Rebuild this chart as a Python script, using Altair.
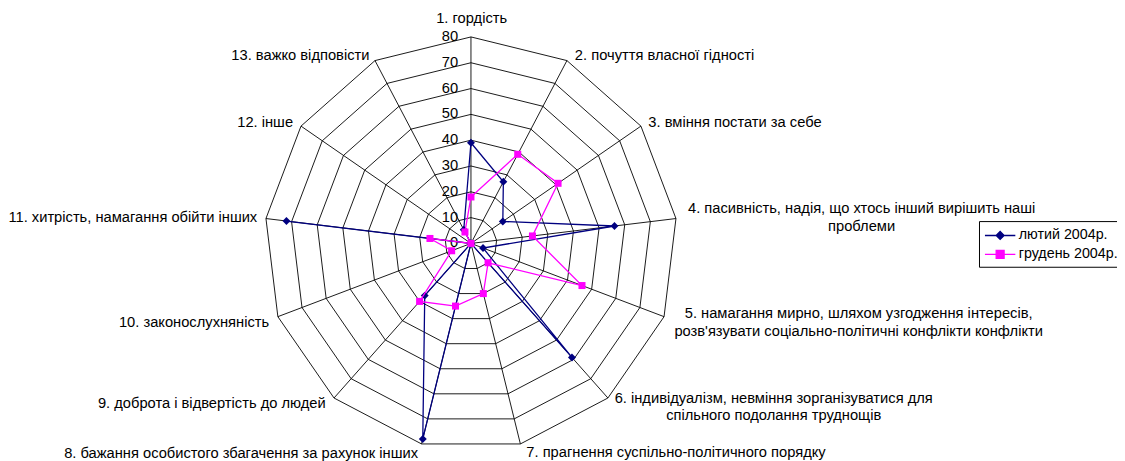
import altair as alt
import pandas as pd

# ---------------- data ----------------
categories = [
    "1. гордість",
    "2. почуття власної гідності",
    "3. вміння постати за себе",
    "4. пасивність, надія, що хтось інший вирішить наші\nпроблеми",
    "5. намагання мирно, шляхом узгодження інтересів,\nрозв'язувати соціально-політичні конфлікти конфлікти",
    "6. індивідуалізм, невміння зорганізуватися для\nспільного подолання труднощів",
    "7. прагнення суспільно-політичного порядку",
    "8. бажання особистого збагачення за рахунок інших",
    "9. доброта і відвертість до людей",
    "10. законослухняність",
    "11. хитрість, намагання обійти інших",
    "12. інше",
    "13. важко відповісти",
]
ticks = [0, 10, 20, 30, 40, 50, 60, 70, 80]
series_names = ["лютий 2004р.", "грудень 2004р."]
feb_values = [39, 27, 15, 56, 5, 59, 0, 78, 27, 0, 72, 0, 6]
dec_values = [18, 39, 41, 24, 46, 10, 20, 25, 30, 8, 16, 0, 5]

# ---------------- layout / style ----------------
NAVY = "#000080"
MAGENTA = "#FF00FF"
FONT = "Liberation Sans"
FS = 14.8
W, H = 1117, 453
CX, CY = 466.3, 235.5      # centre of the radar, px inside plot area
RPX = 208.0                # radius of outer ring, px
N = len(categories)
RMAX = ticks[-1]
K = RPX / RMAX
xdom = [-CX / K, (W - CX) / K]
ydom = [-(H - CY) / K, CY / K]

X = alt.X("x:Q", scale=alt.Scale(domain=xdom, nice=False, zero=False), axis=None)
Y = alt.Y("y:Q", scale=alt.Scale(domain=ydom, nice=False, zero=False), axis=None)
calc = dict(
    x=f"datum.r*sin(datum.i*2*PI/{N})",
    y=f"datum.r*cos(datum.i*2*PI/{N})",
)

# tables built from the arrays
rings = pd.DataFrame([{"level": t, "i": i, "r": t} for t in ticks[1:] for i in range(N)])
spokes = pd.DataFrame([{"i": i, "r": r} for i in range(N) for r in (0, RMAX)])
series_df = pd.DataFrame(
    [{"series": series_names[0], "i": i, "r": v} for i, v in enumerate(feb_values)]
    + [{"series": series_names[1], "i": i, "r": v} for i, v in enumerate(dec_values)]
)
tick_df = pd.DataFrame([{"i": 0, "r": t, "label": str(t)} for t in ticks])
label_df = pd.DataFrame([{"i": i, "r": RMAX, "name": c} for i, c in enumerate(categories)])

layers = []

ring_layer = alt.Chart(rings).transform_calculate(**calc).mark_line(
    interpolate="linear-closed", color="black", strokeWidth=0.9
).encode(x=X, y=Y, detail="level:O", order="i:Q")
layers.append(ring_layer)

spoke_layer = alt.Chart(spokes).transform_calculate(**calc).mark_line(
    color="black", strokeWidth=0.9
).encode(x=X, y=Y, detail="i:O", order="r:Q")
layers.append(spoke_layer)

tick_layer = alt.Chart(tick_df).transform_calculate(**calc).mark_text(
    align="right", baseline="middle", dx=-13, font=FONT, fontSize=14.8, color="black"
).encode(x=X, y=Y, text="label:N")
layers.append(tick_layer)

# series
styles = [(series_names[0], NAVY, "diamond", 64), (series_names[1], MAGENTA, "square", 50)]
for name, col, shp, sz in styles:
    base = alt.Chart(series_df).transform_filter(alt.datum.series == name).transform_calculate(**calc)
    layers.append(base.mark_line(interpolate="linear-closed", color=col, strokeWidth=1.3)
                  .encode(x=X, y=Y, order="i:Q"))
    layers.append(base.mark_point(shape=shp, filled=True, size=sz, color=col, opacity=1)
                  .encode(x=X, y=Y))

# category labels: (align, dx, dy) relative to outer vertex (dy is for the first line)
placements = [
    ("center", 0.7, -18.5),
    ("left", 8, -4.3),
    ("left", 7.5, -3.3),
    ("center", 187, -9.4),
    ("center", 196, -2.3),
    ("center", 167, 0.8),
    ("left", 6, 9.6),
    ("right", -3.5, 10.5),
    ("right", -8.4, 6.5),
    ("right", -8.8, 6.7),
    ("right", -8.8, -0.4),
    ("right", -8, -3.3),
    ("right", -5.6, -4.3),
]
for i, (al, dx, dy) in enumerate(placements):
    layers.append(
        alt.Chart(label_df).transform_filter(alt.datum.i == i).transform_calculate(**calc)
        .mark_text(align=al, baseline="middle", dx=dx, dy=dy, font=FONT, fontSize=FS,
                   color="black", lineBreak="\n", lineHeight=17.5)
        .encode(x=X, y=Y, text="name:N")
    )

# legend (invisible layer carrying the scales)
diamond_path = "M-1,0L2.6,0M0.33,0L0.8,-0.47L1.27,0L0.8,0.47Z"
square_path = "M-1,0L2.6,0M0.33,-0.47L1.27,-0.47L1.27,0.47L0.33,0.47Z"
leg = alt.Legend(
    title=None, orient="none", legendX=978, legendY=213,
    strokeColor="black", fillColor="white", padding=5, cornerRadius=0,
    symbolSize=289, symbolStrokeWidth=1.3, symbolOpacity=1,
    labelFont=FONT, labelFontSize=14.4, labelColor="black", labelOffset=16,
    rowPadding=2, labelLimit=300,
)
legend_layer = alt.Chart(series_df).transform_calculate(**calc).mark_point(
    opacity=0, size=289, strokeWidth=1.3
).encode(
    x=X, y=Y,
    fill=alt.Fill("series:N", scale=alt.Scale(domain=series_names, range=[NAVY, MAGENTA]), legend=leg),
    stroke=alt.Stroke("series:N", scale=alt.Scale(domain=series_names, range=[NAVY, MAGENTA]), legend=leg),
    shape=alt.Shape("series:N", scale=alt.Scale(domain=series_names, range=[diamond_path, square_path]), legend=leg),
)
layers.append(legend_layer)

chart = alt.layer(*layers).properties(
    width=W, height=H, padding=0, autosize=alt.AutoSizeParams(type="none"),
    background="white",
).configure_view(stroke=None)

chart.save("out.html", embed_options={"renderer": "svg", "actions": False})
